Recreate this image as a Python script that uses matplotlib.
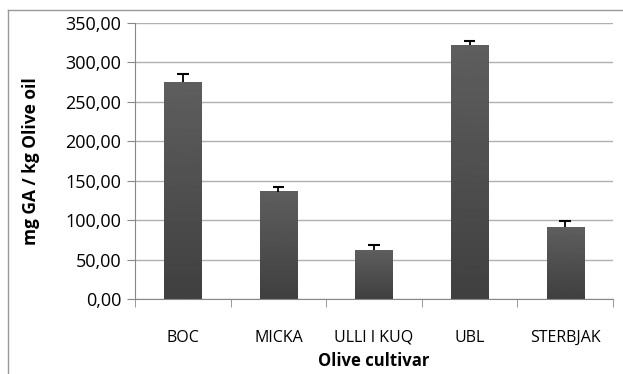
import numpy as np
import matplotlib.pyplot as plt
from matplotlib.lines import Line2D

cultivars = ['BOC', 'MICKA', 'ULLI I KUQ', 'UBL', 'STERBJAK']
values = [275, 136, 62, 322, 91]
errors = [10, 6, 6, 5, 8]

plt.rcParams['font.family'] = ['Open Sans', 'DejaVu Sans']

fig = plt.figure(figsize=(6.23, 3.74), dpi=100, facecolor='w')
W, H = 623, 374
ax = fig.add_axes([135 / W, 1 - 299 / H, (613 - 135) / W, (299 - 23) / H])

x = np.arange(len(cultivars))
bw = 0.39
grad = np.linspace(0.37, 0.25, 100).reshape(-1, 1)
for xi, v in zip(x, values):
    ax.imshow(grad, cmap='gray', vmin=0, vmax=1, aspect='auto',
              extent=[xi - bw / 2, xi + bw / 2, 0, v], origin='upper', zorder=2)
tops = np.array(values) + np.array(errors)
ax.vlines(x, values, tops, color='black', lw=1.3, zorder=3)
ax.hlines(tops, x - 0.06, x + 0.06, color='black', lw=1.5, zorder=3)

ax.set_xlim(-0.5, len(cultivars) - 0.5)
ax.set_ylim(0, 350)
ax.set_yticks(np.arange(0, 351, 50))
ax.set_yticklabels([f'{t:.2f}'.replace('.', ',') for t in np.arange(0, 351, 50)], fontsize=13)
ax.set_xticks(x)
ax.set_xticklabels(cultivars, fontsize=11.5)
ax.tick_params(axis='x', length=0, pad=22)
ax.tick_params(axis='y', length=6, color='#888888', pad=4)
ax.set_xticks(np.arange(-0.5, len(cultivars)), minor=True)
ax.tick_params(axis='x', which='minor', length=6, color='#888888')
ax.grid(axis='y', color='#b0b0b0', linewidth=1)
ax.set_axisbelow(True)
for s in ['top', 'right']:
    ax.spines[s].set_visible(False)
ax.spines['left'].set_color('#888888')
ax.spines['bottom'].set_color('#888888')
ax.set_xlabel('Olive cultivar', fontsize=12, fontweight='bold', labelpad=5)
ax.set_ylabel('mg GA / kg Olive oil', fontsize=12.5, fontweight='bold', labelpad=18)

fig.add_artist(Line2D([8 / W, 8 / W], [0, 1 - 10 / H], color='#999999', lw=1))
fig.add_artist(Line2D([8 / W, 1], [1 - 10 / H, 1 - 10 / H], color='#999999', lw=1))

fig.savefig('out.png', dpi=100)
